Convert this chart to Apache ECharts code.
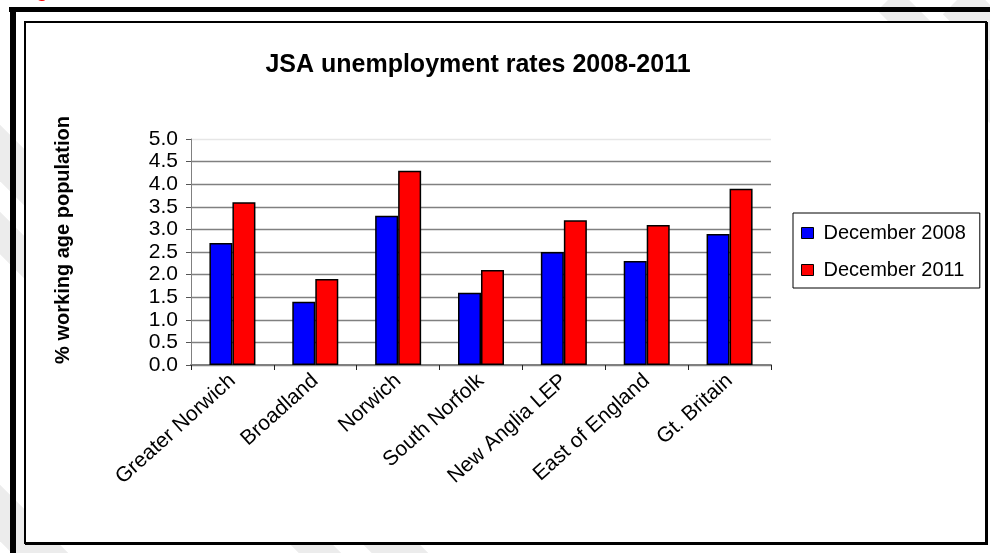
<!DOCTYPE html>
<html>
<head>
<meta charset="utf-8">
<script src="https://cdn.jsdelivr.net/npm/echarts@6/dist/echarts.min.js"></script>
<style>
html,body{margin:0;padding:0;background:#fff;}
#chart{width:990px;height:553px;}
</style>
</head>
<body>
<div id="chart"></div>
<script>
const categories = ['Greater Norwich', 'Broadland', 'Norwich', 'South Norfolk', 'New Anglia LEP', 'East of England', 'Gt. Britain'];
const dec2008 = [2.7, 1.4, 3.3, 1.6, 2.5, 2.3, 2.9];
const dec2011 = [3.6, 1.9, 4.3, 2.1, 3.2, 3.1, 3.9];
const seriesNames = ['December 2008', 'December 2011'];
const titleText = 'JSA unemployment rates 2008-2011';
const yAxisTitle = '% working age population';

const FONT = '"Liberation Sans", Arial, sans-serif';
const chart = echarts.init(document.getElementById('chart'), null, {renderer: 'canvas'});

function band(x0, w) {
  return {
    type: 'line', silent: true, z: -10,
    shape: {x1: x0, y1: 0, x2: x0 + 600, y2: 600},
    style: {stroke: '#ececec', lineWidth: w}
  };
}

const gridColors = [];
for (let i = 0; i < 10; i++) gridColors.push('#808080');
gridColors.push('#e6e6e6');

chart.setOption({
  backgroundColor: '#ffffff',
  animation: false,
  graphic: [
    band(-513, 40), band(-233, 30), band(-153, 40), band(957, 40), band(888, 30),
    {type: 'rect', z: -5, silent: true, shape: {x: 9, y: 7, width: 990, height: 5}, style: {fill: '#000'}},
    {type: 'rect', z: -5, silent: true, shape: {x: 10, y: 7, width: 6, height: 560}, style: {fill: '#000'}},
    {type: 'rect', z: -4, silent: true, shape: {x: 25, y: 22, width: 961, height: 521}, style: {fill: '#fff', stroke: '#000', lineWidth: 2}},
    {type: 'line', z: -3, silent: true, shape: {x1: 987, y1: 22, x2: 987, y2: 545}, style: {stroke: '#000', lineWidth: 2}},
    {type: 'line', z: -3, silent: true, shape: {x1: 25, y1: 544, x2: 988, y2: 544}, style: {stroke: '#000', lineWidth: 2}},
    {type: 'text', z: 5, left: 36, top: -19, style: {text: 'g', fill: '#ff0000', font: 'bold 20px ' + FONT}},
    {type: 'text', z: 5, x: 63, y: 240, rotation: Math.PI / 2,
      style: {text: yAxisTitle, fill: '#000', font: 'bold 20px ' + FONT, align: 'center', verticalAlign: 'middle'}}
  ],
  title: {
    text: titleText,
    left: 473, top: 48, textAlign: 'center',
    textStyle: {fontFamily: FONT, fontSize: 25, fontWeight: 'bold', color: '#000'}
  },
  legend: {
    orient: 'vertical',
    left: 793, top: 213,
    padding: [10, 14, 8, 8],
    itemGap: 17,
    itemWidth: 12, itemHeight: 11,
    icon: 'rect',
    borderColor: '#000', borderWidth: 1,
    backgroundColor: '#fff',
    itemStyle: {borderColor: '#000', borderWidth: 1},
    textStyle: {fontFamily: FONT, fontSize: 20, color: '#000', padding: [0, 0, 0, 5]},
    data: seriesNames
  },
  grid: {left: 191, top: 139, width: 580, height: 226, containLabel: false},
  xAxis: {
    type: 'category',
    data: categories,
    axisLine: {show: true, lineStyle: {color: '#808080', width: 2}},
    axisTick: {show: true, length: 5, lineStyle: {color: '#222', width: 1}},
    axisLabel: {interval: 0, rotate: 42, margin: 13, fontFamily: FONT, fontSize: 21, color: '#000'},
    splitLine: {show: false}
  },
  yAxis: {
    type: 'value',
    min: 0, max: 5, interval: 0.5,
    axisLine: {show: true, lineStyle: {color: '#808080', width: 1}},
    axisTick: {show: true, length: 5, lineStyle: {color: '#555'}},
    axisLabel: {margin: 13, fontFamily: FONT, fontSize: 21, color: '#000', formatter: v => v.toFixed(1)},
    splitLine: {show: true, lineStyle: {color: gridColors, width: 1.3}}
  },
  series: [
    {
      name: seriesNames[0], type: 'bar', data: dec2008,
      barWidth: 23, barGap: '0%',
      itemStyle: {color: '#0000ff', borderColor: '#000', borderWidth: 1.5}
    },
    {
      name: seriesNames[1], type: 'bar', data: dec2011,
      barWidth: 23, barGap: '0%',
      itemStyle: {color: '#ff0000', borderColor: '#000', borderWidth: 1.5}
    }
  ]
});
</script>
</body>
</html>
